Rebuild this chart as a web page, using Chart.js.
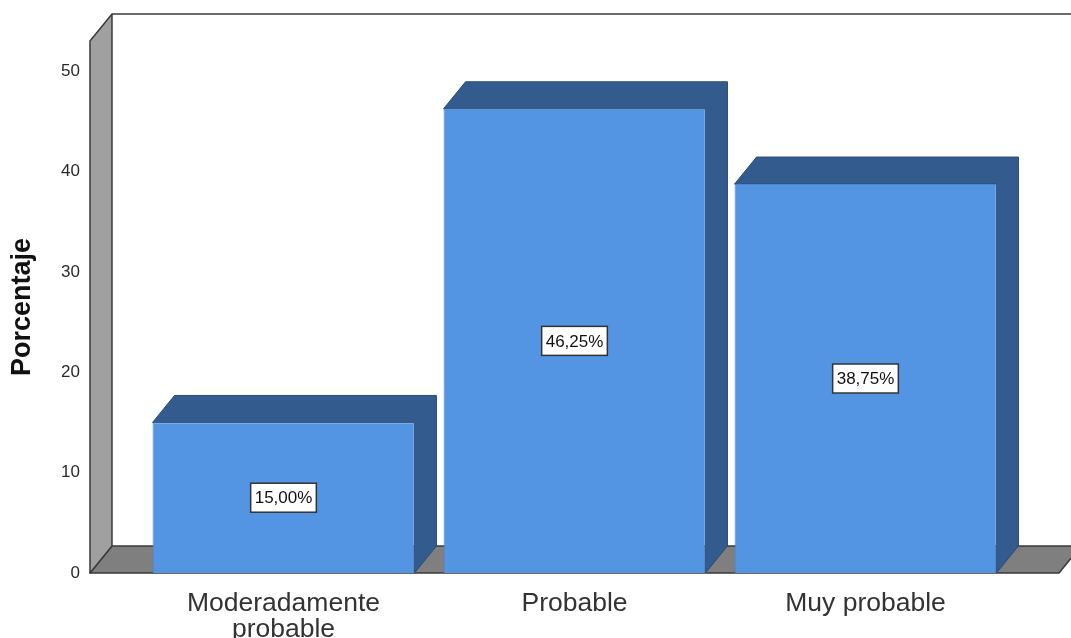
<!DOCTYPE html>
<html>
<head>
<meta charset="utf-8">
<script src="https://cdn.jsdelivr.net/npm/chart.js@4/dist/chart.umd.min.js"></script>
<style>
    html, body { margin: 0; padding: 0; background: #fff; }
    #wrap { width: 1071px; height: 638px; }
</style>
</head>
<body>
<div id="wrap"><canvas id="barChart"></canvas></div>
<script>
// Data
var categories = [['Moderadamente', 'probable'], 'Probable', 'Muy probable'];
var percentages = [15.00, 46.25, 38.75];
var valueLabels = ['15,00%', '46,25%', '38,75%'];
var yTicks = [0, 10, 20, 30, 40, 50];
var yMax = 53;

// depth of the 3D effect
var DX = 22, DY = -27;

var box3d = {
    id: 'box3d',
    beforeDatasetsDraw: function(chart) {
        var ctx = chart.ctx;
        var area = chart.chartArea;
        var y = chart.scales.y;
        var inset = (area.width / categories.length) * 0.165;
        var left = area.left - inset;
        var right = area.right + inset;
        var base = y.getPixelForValue(0);
        var top = y.getPixelForValue(yMax);

        ctx.save();
        ctx.lineJoin = 'round';
        ctx.strokeStyle = '#3a3a3a';
        ctx.lineWidth = 1.5;

        // back wall top line
        ctx.beginPath();
        ctx.moveTo(left + DX, top + DY);
        ctx.lineTo(chart.width + 5, top + DY);
        ctx.stroke();

        // floor
        ctx.fillStyle = '#7f7f7f';
        ctx.beginPath();
        ctx.moveTo(left, base);
        ctx.lineTo(left + DX, base + DY);
        ctx.lineTo(right + DX, base + DY);
        ctx.lineTo(right, base);
        ctx.closePath();
        ctx.fill();
        ctx.stroke();

        // left wall
        ctx.fillStyle = '#a0a0a0';
        ctx.beginPath();
        ctx.moveTo(left, base);
        ctx.lineTo(left, top);
        ctx.lineTo(left + DX, top + DY);
        ctx.lineTo(left + DX, base + DY);
        ctx.closePath();
        ctx.fill();
        ctx.stroke();

        // top and side faces of the bars
        var meta = chart.getDatasetMeta(0);
        meta.data.forEach(function(bar) {
            var x1 = bar.x - bar.width / 2;
            var x2 = bar.x + bar.width / 2;
            var t = bar.y;
            var b = bar.base;
            ctx.fillStyle = '#345b8d';
            ctx.strokeStyle = '#2b4c76';
            ctx.lineWidth = 1;
            ctx.beginPath();
            ctx.moveTo(x1, t);
            ctx.lineTo(x1 + DX, t + DY);
            ctx.lineTo(x2 + DX, t + DY);
            ctx.lineTo(x2 + DX, b + DY);
            ctx.lineTo(x2, b);
            ctx.lineTo(x2, t);
            ctx.closePath();
            ctx.fill();
            ctx.stroke();
        });
        ctx.restore();
    },
    afterDatasetsDraw: function(chart) {
        var ctx = chart.ctx;
        var meta = chart.getDatasetMeta(0);
        ctx.save();
        ctx.font = '17px "Liberation Sans", Arial, sans-serif';
        ctx.textAlign = 'center';
        ctx.textBaseline = 'middle';
        meta.data.forEach(function(bar, i) {
            var cy = (bar.y + bar.base) / 2;
            var w = ctx.measureText(valueLabels[i]).width + 8;
            var h = 29;
            ctx.fillStyle = '#ffffff';
            ctx.fillRect(bar.x - w / 2, cy - h / 2, w, h);
            ctx.strokeStyle = '#333333';
            ctx.lineWidth = 1.5;
            ctx.strokeRect(bar.x - w / 2, cy - h / 2, w, h);
            ctx.fillStyle = '#111111';
            ctx.fillText(valueLabels[i], bar.x, cy + 1);
        });
        ctx.restore();
    }
};

var ctx = document.getElementById('barChart').getContext('2d');
new Chart(ctx, {
    type: 'bar',
    data: {
        labels: categories,
        datasets: [{
            label: 'Porcentaje',
            data: percentages,
            backgroundColor: '#5394e3',
            borderColor: '#4a85cc',
            borderWidth: 1,
            categoryPercentage: 0.9,
            barPercentage: 1.0
        }]
    },
    options: {
        responsive: true,
        maintainAspectRatio: false,
        animation: false,
        layout: { padding: { top: 41, right: 60, left: 0, bottom: 0 } },
        plugins: {
            legend: { display: false },
            tooltip: { enabled: false }
        },
        scales: {
            x: {
                grid: { display: false, drawTicks: false },
                border: { display: false },
                ticks: {
                    padding: 17,
                    color: '#333333',
                    font: { family: '"Liberation Sans", Arial, sans-serif', size: 26.5, lineHeight: 1.0 }
                },
                afterFit: function(scale) {
                    scale.height = 65;
                    scale.paddingLeft = 0;
                    scale.paddingRight = 0;
                }
            },
            y: {
                min: 0,
                max: yMax,
                grid: { display: false, drawTicks: false },
                border: { display: false },
                afterBuildTicks: function(scale) {
                    scale.ticks = yTicks.map(function(v) { return { value: v }; });
                },
                ticks: {
                    padding: 58,
                    color: '#2a2a2a',
                    font: { family: '"Liberation Sans", Arial, sans-serif', size: 17 }
                },
                title: {
                    display: true,
                    text: 'Porcentaje',
                    color: '#111111',
                    padding: { top: 6, bottom: 0 },
                    font: { family: '"Liberation Sans", Arial, sans-serif', size: 27, weight: 'bold' }
                },
                afterFit: function(scale) {
                    scale.width = 138;
                    scale.paddingTop = 0;
                    scale.paddingBottom = 0;
                }
            }
        }
    },
    plugins: [box3d]
});
</script>
</body>
</html>
